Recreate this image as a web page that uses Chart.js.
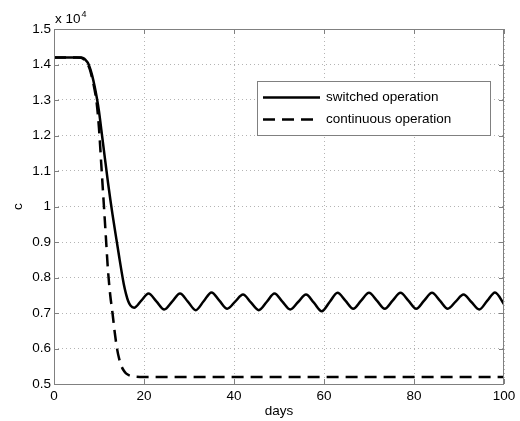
<!DOCTYPE html>
<html><head><meta charset="utf-8">
<script src="https://cdn.jsdelivr.net/npm/chart.js@4/dist/chart.umd.min.js"></script>
<style>html,body{margin:0;padding:0;background:#fff}canvas{display:block}</style>
</head><body>
<canvas id="c" width="520" height="421"></canvas>
<script>
// ---- data (y values in units of 10^4) ----
const switchedDays = [0, 6, 6.5, 7, 7.5, 8, 8.5, 9, 9.5, 10, 10.5, 11, 11.5, 12, 12.5, 13, 13.5, 14, 14.5, 15, 15.5, 16, 16.5, 17,
  17.8, 19.4, 21, 22.75, 24.5, 26.25, 28, 29.75, 31.5, 33.25, 35, 36.75, 38.5, 40.25, 42, 43.75, 45.5, 47.25, 49, 50.75,
  52.5, 54.25, 56, 57.75, 59.5, 61.25, 63, 64.75, 66.5, 68.25, 70, 71.75, 73.5, 75.25, 77, 78.75, 80.5, 82.25, 84, 85.75,
  87.5, 89.25, 91, 92.75, 94.5, 96.25, 98, 100];
const switchedValues = [1.42, 1.42, 1.418, 1.413, 1.405, 1.39, 1.368, 1.34, 1.307, 1.268, 1.218, 1.167, 1.117, 1.067, 1.021, 0.978, 0.937, 0.897, 0.857, 0.818, 0.782, 0.754, 0.733, 0.721,
  0.715, 0.735, 0.755, 0.733, 0.710, 0.732, 0.755, 0.732, 0.708, 0.733, 0.758, 0.735, 0.712, 0.732, 0.752, 0.730, 0.708, 0.731, 0.755, 0.732,
  0.710, 0.731, 0.752, 0.729, 0.705, 0.731, 0.757, 0.735, 0.712, 0.735, 0.757, 0.735, 0.712, 0.735, 0.757, 0.735, 0.712, 0.735, 0.757, 0.735,
  0.712, 0.732, 0.752, 0.731, 0.710, 0.734, 0.758, 0.725];
const continuousDays = [0, 5, 6, 7, 7.5, 8, 8.5, 9, 9.5, 10, 10.5, 11, 11.5, 12, 12.5, 13, 13.5, 14, 14.5, 15, 15.5, 16, 17, 18, 20, 100];
const continuousValues = [1.42, 1.42, 1.419, 1.41, 1.40, 1.385, 1.36, 1.33, 1.29, 1.22, 1.12, 1.02, 0.92, 0.82, 0.75, 0.70, 0.645, 0.60, 0.57, 0.55, 0.538, 0.53, 0.523, 0.521, 0.52, 0.52];
const seriesNames = ['switched operation', 'continuous operation'];
const xTickValues = [0, 20, 40, 60, 80, 100];
const xTickLabels = ['0', '20', '40', '60', '80', '100'];
const yTickValues = [0.5, 0.6, 0.7, 0.8, 0.9, 1.0, 1.1, 1.2, 1.3, 1.4, 1.5];
const yTickLabels = ['0.5', '0.6', '0.7', '0.8', '0.9', '1', '1.1', '1.2', '1.3', '1.4', '1.5'];
const xTitle = 'days';
const yTitle = 'c';
const yMultiplier = ['x 10', '4'];

const FONT = 'Liberation Sans, Arial, Helvetica, sans-serif';
const FS = 13.5;
const FRAME = '#808080';

const framePlugin = {
  id: 'matlabFrame',
  afterDraw(chart) {
    const {ctx, chartArea: a, scales} = chart;
    ctx.save();
    ctx.strokeStyle = FRAME;
    ctx.lineWidth = 1;
    ctx.setLineDash([]);
    ctx.strokeRect(a.left + 0.5, a.top + 0.5, a.right - a.left - 1, a.bottom - a.top);
    const tl = 5;
    ctx.beginPath();
    xTickValues.forEach(v => {
      const x = Math.round(scales.x.getPixelForValue(v)) + 0.5;
      ctx.moveTo(x, a.bottom); ctx.lineTo(x, a.bottom - tl);
      ctx.moveTo(x, a.top); ctx.lineTo(x, a.top + tl);
    });
    yTickValues.forEach(v => {
      const y = Math.round(scales.y.getPixelForValue(v)) + 0.5;
      ctx.moveTo(a.left, y); ctx.lineTo(a.left + tl, y);
      ctx.moveTo(a.right, y); ctx.lineTo(a.right - tl, y);
    });
    ctx.stroke();

    // multiplier label
    ctx.fillStyle = '#000';
    ctx.textBaseline = 'alphabetic';
    ctx.textAlign = 'left';
    ctx.font = FS + 'px ' + FONT;
    ctx.fillText(yMultiplier[0], 55, 23);
    const w = ctx.measureText(yMultiplier[0]).width;
    ctx.font = '9px ' + FONT;
    ctx.fillText(yMultiplier[1], 55 + w + 1, 17);

    // legend
    const lx = 257, ly = 81, lw = 233, lh = 54;
    ctx.fillStyle = '#fff';
    ctx.fillRect(lx, ly, lw, lh);
    ctx.strokeStyle = FRAME;
    ctx.lineWidth = 1;
    ctx.strokeRect(lx + 0.5, ly + 0.5, lw, lh);
    const rows = [97.5, 119.5];
    chart.data.datasets.forEach((ds, i) => {
      ctx.strokeStyle = ds.borderColor;
      ctx.lineWidth = ds.borderWidth;
      ctx.setLineDash(ds.borderDash || []);
      ctx.beginPath();
      ctx.moveTo(263, rows[i]);
      ctx.lineTo(320, rows[i]);
      ctx.stroke();
      ctx.setLineDash([]);
      ctx.fillStyle = '#000';
      ctx.font = FS + 'px ' + FONT;
      ctx.textBaseline = 'middle';
      ctx.fillText(ds.label, 326, rows[i]);
    });
    ctx.restore();
  }
};

new Chart(document.getElementById('c'), {
  type: 'line',
  data: {
    datasets: [
      {
        label: seriesNames[0],
        data: switchedDays.map((d, i) => ({x: d, y: switchedValues[i]})),
        borderColor: '#000', borderWidth: 2.5, pointRadius: 0,
        cubicInterpolationMode: 'monotone', fill: false
      },
      {
        label: seriesNames[1],
        data: continuousDays.map((d, i) => ({x: d, y: continuousValues[i]})),
        borderColor: '#000', borderWidth: 2.5, pointRadius: 0, borderDash: [12, 7],
        cubicInterpolationMode: 'monotone', fill: false
      }
    ]
  },
  options: {
    responsive: false,
    animation: false,
    devicePixelRatio: 1,
    layout: {padding: {left: 0, top: 29, right: 16, bottom: 0}},
    plugins: {legend: {display: false}, tooltip: {enabled: false}},
    scales: {
      x: {
        type: 'linear', min: 0, max: 100,
        afterFit: s => { s.height = 37; },
        afterBuildTicks: s => { s.ticks = xTickValues.map(v => ({value: v})); },
        ticks: {
          padding: 4, color: '#000', font: {family: FONT, size: FS},
          maxRotation: 0, autoSkip: false,
          callback: (v) => xTickLabels[xTickValues.indexOf(v)]
        },
        grid: {color: '#b4b4b4', lineWidth: 1, drawTicks: false},
        border: {display: false, dash: [1, 3]},
        title: {display: true, text: xTitle, color: '#000', font: {family: FONT, size: FS}, padding: {top: 0, bottom: 2}}
      },
      y: {
        type: 'linear', min: 0.5, max: 1.5,
        afterFit: s => { s.width = 54; },
        afterBuildTicks: s => { s.ticks = yTickValues.map(v => ({value: v})); },
        ticks: {
          padding: 3, color: '#000', font: {family: FONT, size: FS}, autoSkip: false,
          callback: (v) => yTickLabels[yTickValues.findIndex(t => Math.abs(t - v) < 1e-6)]
        },
        grid: {color: '#b4b4b4', lineWidth: 1, drawTicks: false},
        border: {display: false, dash: [1, 3]},
        title: {display: true, text: yTitle, color: '#000', font: {family: FONT, size: FS}, padding: {top: 10, bottom: 0}}
      }
    }
  },
  plugins: [framePlugin]
});
</script>
</body></html>
